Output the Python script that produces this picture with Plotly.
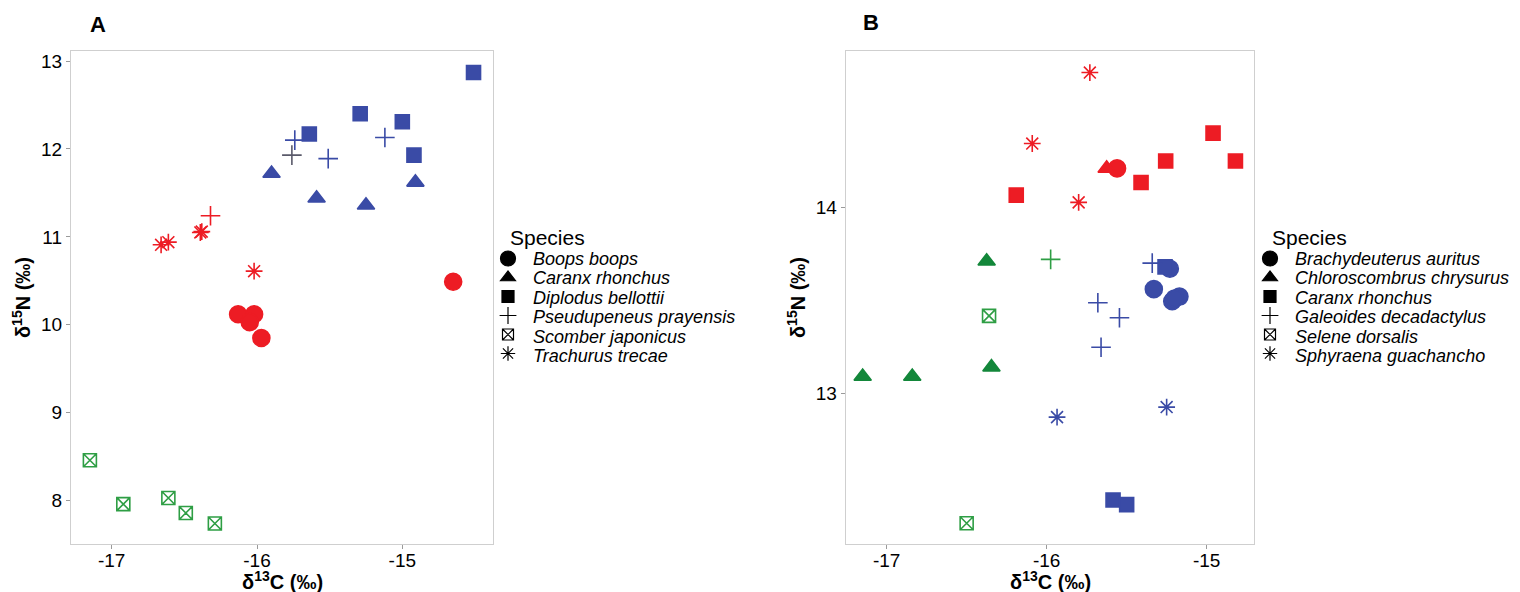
import plotly.graph_objects as go

# ---------------- Panel A data ----------------
a_species = (["Boops boops"] * 5 + ["Caranx rhonchus"] * 4 + ["Diplodus bellottii"] * 5
             + ["Pseudupeneus prayensis"] * 5 + ["Scomber japonicus"] * 5 + ["Trachurus trecae"] * 5)
a_d13c = [-14.65, -16.13, -16.02, -16.05, -15.97,
          -15.90, -15.59, -15.25, -14.91,
          -14.51, -15.29, -15.00, -15.64, -14.92,
          -15.74, -15.76, -15.51, -15.12, -16.32,
          -17.15, -16.92, -16.61, -16.49, -16.29,
          -16.66, -16.61, -16.39, -16.38, -16.02]
a_d15n = [10.49, 10.12, 10.12, 10.03, 9.85,
          11.72, 11.44, 11.36, 11.62,
          12.87, 12.40, 12.31, 12.17, 11.93,
          12.10, 11.93, 11.89, 12.13, 11.24,
          8.46, 7.96, 8.03, 7.86, 7.74,
          10.91, 10.94, 11.05, 11.06, 10.61]
a_group = ["red", "red", "red", "red", "red",
           "blue", "blue", "blue", "blue",
           "blue", "blue", "blue", "blue", "blue",
           "blue", "grey", "blue", "blue", "red",
           "green", "green", "green", "green", "green",
           "red", "red", "red", "red", "red"]
a_legend = ["Boops boops", "Caranx rhonchus", "Diplodus bellottii",
            "Pseudupeneus prayensis", "Scomber japonicus", "Trachurus trecae"]
a_yticks = [8, 9, 10, 11, 12, 13]

# ---------------- Panel B data ----------------
b_species = (["Brachydeuterus auritus"] * 6 + ["Chloroscombrus chrysurus"] * 5
             + ["Caranx rhonchus"] * 8 + ["Galeoides decadactylus"] * 5
             + ["Selene dorsalis"] * 2 + ["Sphyraena guachancho"] * 5)
b_d13c = [-15.56, -15.23, -15.33, -15.215, -15.17, -15.20,
          -15.625, -16.375, -17.15, -16.84, -16.345,
          -16.19, -15.41, -15.256, -14.96, -14.82, -15.26, -15.585, -15.50,
          -15.34, -15.975, -15.68, -15.545, -15.66,
          -16.36, -16.50,
          -15.73, -16.09, -15.80, -15.935, -15.25]
b_d15n = [14.21, 13.67, 13.56, 13.495, 13.52, 13.51,
          14.21, 13.71, 13.09, 13.09, 13.14,
          14.066, 14.134, 14.25, 14.40, 14.25, 13.68, 12.425, 12.40,
          13.70, 13.72, 13.487, 13.406, 13.247,
          13.416, 12.30,
          14.726, 14.344, 14.027, 12.871, 12.925]
b_group = ["red", "blue", "blue", "blue", "blue", "blue",
           "red", "dkgreen", "dkgreen", "dkgreen", "dkgreen",
           "red", "red", "red", "red", "red", "blue", "blue", "blue",
           "blue", "green", "blue", "blue", "blue",
           "green", "green",
           "red", "red", "red", "blue", "blue"]
b_legend = ["Brachydeuterus auritus", "Chloroscombrus chrysurus", "Caranx rhonchus",
            "Galeoides decadactylus", "Selene dorsalis", "Sphyraena guachancho"]
b_yticks = [13, 14]

x_ticks = [-17, -16, -15]
x_ticktext = ["-17", "-16", "-15"]

# ---------------- styles ----------------
COLORS = {"red": "#ED1C24", "blue": "#3A4BA6", "grey": "#5A5A6A",
          "green": "#2E9E44", "dkgreen": "#13873A"}
SYMBOLS = ["circle", "triangle-up", "square", "cross-thin-open", "square-x-open", "asterisk-open"]
SIZES = [17, 15, 14, 14, 13, 14]
FONT = "Liberation Sans, Arial, sans-serif"
W, H = 1520, 592


def px(x):
    return x / W


def py(y):
    return 1 - y / H


fig = go.Figure()
annotations = []


def add_panel(species, xs, ys, groups, legend_names, xaxis, yaxis, legend_id, text_x):
    for k, name in enumerate(legend_names):
        sym, size = SYMBOLS[k], SIZES[k]
        for g in dict.fromkeys(groups):
            idx = [i for i, s in enumerate(species) if s == name and groups[i] == g]
            if not idx:
                continue
            fig.add_trace(go.Scatter(
                x=[xs[i] for i in idx], y=[ys[i] for i in idx], mode="markers",
                xaxis=xaxis, yaxis=yaxis, showlegend=False, hoverinfo="skip",
                marker=dict(symbol=sym, size=size, color=COLORS[g],
                            line=dict(width=1.6, color=COLORS[g]))))
        # legend key (black symbol); its label is drawn as an annotation
        fig.add_trace(go.Scatter(
            x=[None], y=[None], mode="markers", name=" ", xaxis=xaxis, yaxis=yaxis,
            legend=legend_id,
            marker=dict(symbol=sym, size=size - 2, color="black",
                        line=dict(width=1.2, color="black"))))
        annotations.append(dict(
            text=name, x=px(text_x), y=py(259 + 19.4 * k), xref="paper", yref="paper",
            xanchor="left", yanchor="middle", showarrow=False,
            font=dict(family=FONT, size=18, color="black", style="italic")))
    annotations.append(dict(
        text="Species", x=px(text_x - 23), y=py(237), xref="paper", yref="paper",
        xanchor="left", yanchor="middle", showarrow=False,
        font=dict(family=FONT, size=21, color="black")))


add_panel(a_species, a_d13c, a_d15n, a_group, a_legend, "x", "y", "legend", 531)
add_panel(b_species, b_d13c, b_d15n, b_group, b_legend, "x2", "y2", "legend2", 1293)

axis_common = dict(showgrid=False, zeroline=False, showline=True, mirror=True, automargin=False,
                   linecolor="#CFCFCF", linewidth=1.2, ticks="outside", ticklen=4,
                   tickcolor="#9a9a9a", tickfont=dict(family=FONT, size=19, color="black"),
                   title_font=dict(family=FONT, size=20, color="black"))
xaxis_common = dict(ticklabelstandoff=-5, tickvals=x_ticks, ticktext=x_ticktext, **axis_common)

legend_common = dict(font=dict(family=FONT, size=12, color="black"),
                     bgcolor="rgba(0,0,0,0)", xanchor="left", yanchor="top",
                     tracegroupgap=0, itemwidth=30)

title_x = "<b>δ<sup>13</sup>C (‰)</b>"
title_y = "<b>δ<sup>15</sup>N (‰)</b>"

annotations += [
    dict(text="<b>A</b>", x=px(98), y=py(24), xref="paper", yref="paper",
         xanchor="center", yanchor="middle",
         showarrow=False, font=dict(family=FONT, size=22, color="black")),
    dict(text="<b>B</b>", x=px(871), y=py(23), xref="paper", yref="paper",
         xanchor="center", yanchor="middle",
         showarrow=False, font=dict(family=FONT, size=22, color="black")),
    dict(text=title_x, x=px(282), y=py(580), xref="paper", yref="paper",
         xanchor="center", yanchor="middle",
         showarrow=False, font=dict(family=FONT, size=20, color="black")),
    dict(text=title_x, x=px(1050), y=py(580), xref="paper", yref="paper",
         xanchor="center", yanchor="middle",
         showarrow=False, font=dict(family=FONT, size=20, color="black")),
]

fig.update_layout(
    width=W, height=H, paper_bgcolor="white", plot_bgcolor="white",
    margin=dict(l=0, r=0, t=0, b=0),
    xaxis=dict(domain=[px(71), px(493)], range=[-17.28, -14.376], **xaxis_common),
    yaxis=dict(domain=[py(544), py(51)], range=[7.507, 13.114], tickvals=a_yticks,
               title=dict(text=title_y, standoff=4), **axis_common),
    xaxis2=dict(domain=[px(845.7), px(1254)], range=[-17.256, -14.704], anchor="y2",
                **xaxis_common),
    yaxis2=dict(domain=[py(544), py(51)], range=[12.188, 14.842], tickvals=b_yticks,
                anchor="x2", title=dict(text=title_y, standoff=4), **axis_common),
    legend=dict(x=px(488), y=py(244), **legend_common),
    legend2=dict(x=px(1250), y=py(244), **legend_common),
    annotations=annotations,
)

# remove the default 8px page margin so the figure fills the 1520x592 window exactly
fig.write_html("out.html", config={"displayModeBar": False},
               post_script="document.body.style.margin='0';document.body.style.overflow='hidden';")
